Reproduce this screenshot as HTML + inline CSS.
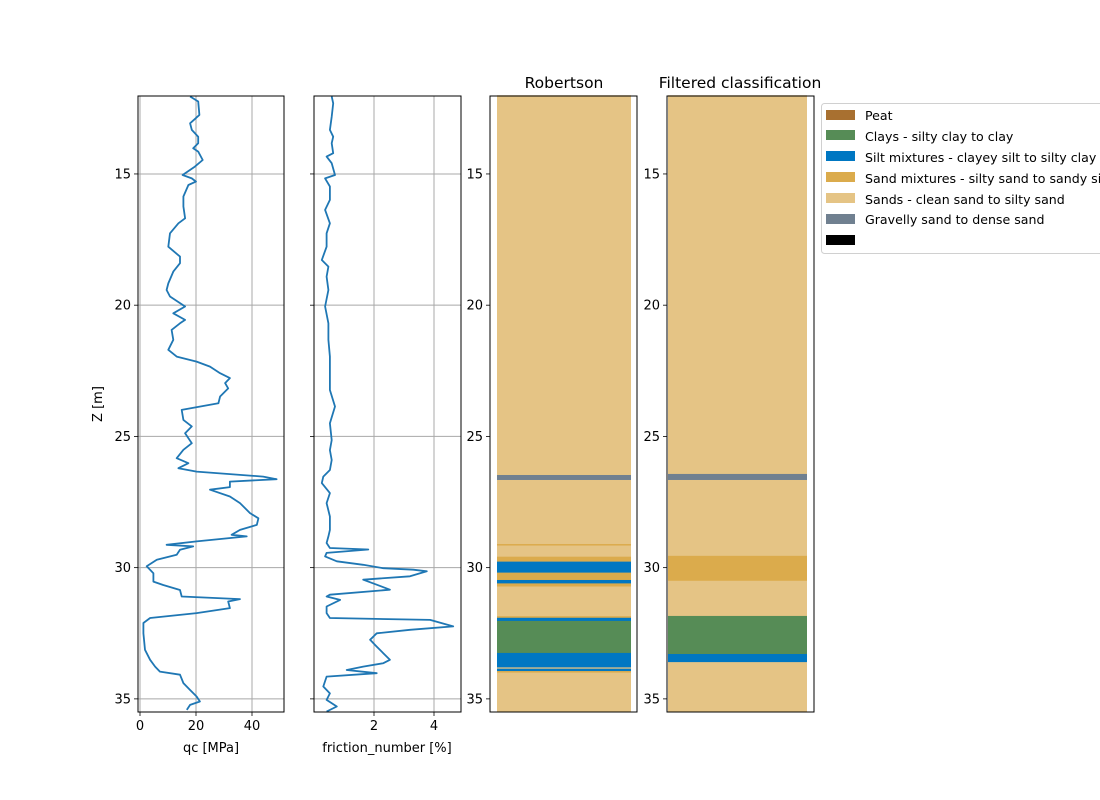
<!DOCTYPE html>
<html><head><meta charset="utf-8"><style>
body{margin:0;background:#fff}
svg{display:block;font-family:"DejaVu Sans","Liberation Sans",sans-serif}
</style></head><body>
<svg id="chart" width="1100" height="800"></svg>
<script>
const qcDepth=[12.05,12.24,12.75,13.07,13.32,13.58,13.83,14.02,14.15,14.47,14.72,15.04,15.17,15.29,15.42,15.86,16.24,16.69,16.88,17.26,17.77,18.15,18.40,18.72,19.17,19.42,19.67,20.05,20.31,20.56,20.69,20.94,21.32,21.70,21.96,22.15,22.34,22.59,22.78,22.97,23.17,23.48,23.74,23.99,24.37,24.62,24.88,25.26,25.51,25.83,26.02,26.21,26.34,26.53,26.63,26.72,26.93,27.03,27.29,27.54,27.92,28.12,28.37,28.56,28.75,28.81,29.00,29.13,29.19,29.32,29.51,29.70,29.95,30.21,30.53,30.66,30.85,31.10,31.20,31.29,31.54,31.73,31.92,32.11,32.50,33.13,33.51,33.77,33.96,34.08,34.40,34.66,34.91,35.10,35.23,35.42];
const qcValues=[17.9,20.8,21.2,17.9,18.5,20.8,20.8,19.0,20.8,22.4,19.6,15.2,18.5,20.0,17.3,15.5,15.5,16.1,13.7,10.7,10.1,14.3,14.3,11.9,10.1,9.5,10.7,16.1,11.9,16.1,14.3,11.3,11.9,10.1,13.1,20.2,25.0,28.6,32.1,30.4,31.5,28.6,28.0,14.9,15.5,18.5,16.1,18.5,15.5,13.1,17.3,13.7,20.2,44.0,48.8,32.1,32.1,25.0,32.1,35.7,39.3,42.3,41.7,35.7,32.7,38.1,20.2,9.5,19.0,14.3,13.1,6.0,2.4,4.8,4.8,8.3,14.3,14.9,35.7,31.5,32.1,20.2,3.6,1.2,1.2,1.8,3.6,5.4,7.1,14.3,15.5,17.9,20.2,21.4,17.9,16.7];
const frDepth=[12.05,12.31,12.82,13.32,13.58,13.83,14.21,14.34,14.59,15.04,15.17,15.48,15.99,16.37,16.88,17.26,17.77,18.28,18.53,18.91,19.42,20.05,20.69,21.32,21.96,22.59,23.23,23.86,24.50,25.14,25.52,25.90,26.28,26.53,26.78,27.16,27.54,28.05,28.56,28.81,29.06,29.25,29.31,29.44,29.57,29.76,29.89,30.02,30.08,30.14,30.33,30.46,30.65,30.84,31.03,31.10,31.23,31.48,31.73,31.92,31.99,32.24,32.37,32.50,32.75,33.01,33.26,33.51,33.64,33.77,33.90,34.02,34.15,34.53,34.79,35.04,35.29,35.48];
const frValues=[0.59,0.64,0.59,0.53,0.64,0.59,0.64,0.42,0.59,0.70,0.37,0.53,0.53,0.37,0.53,0.42,0.42,0.26,0.48,0.42,0.48,0.37,0.48,0.48,0.53,0.53,0.53,0.70,0.53,0.59,0.53,0.59,0.53,0.31,0.26,0.53,0.42,0.53,0.53,0.48,0.42,0.53,1.81,0.42,0.37,0.76,1.64,2.31,3.31,3.76,3.20,1.64,2.09,2.53,0.53,0.42,0.87,0.42,0.42,0.53,3.87,4.64,3.20,2.09,1.87,2.09,2.31,2.53,2.31,1.64,1.09,2.09,0.42,0.31,0.53,0.42,0.76,0.42];
const layerColors={peat:"#a87030",clay:"#568c56",silt:"#0077c2",sandmix:"#dbab4c",sand:"#e5c485",gravel:"#708090",other:"#000000"};
const robTop=[12.0,26.47,26.66,29.10,29.16,29.58,29.77,30.19,30.47,30.60,30.72,31.85,31.91,32.03,33.25,33.80,33.85,33.94,34.00];
const robType=["sand","gravel","sand","sandmix","sand","sandmix","silt","sandmix","silt","sandmix","sand","sandmix","silt","clay","silt","sand","silt","sandmix","sand"];
const filTop=[12.0,26.43,26.66,29.55,30.50,31.84,33.29,33.60];
const filType=["sand","gravel","sand","sandmix","sand","clay","silt","sand"];
const zTicks=[15,20,25,30,35];
const qcTicks=[0,20,40];
const frTicks=[2,4];

const NS="http://www.w3.org/2000/svg";
const svg=document.getElementById('chart');
function mk(tag,attrs,parent){const e=document.createElementNS(NS,tag);for(const k in attrs)e.setAttribute(k,attrs[k]);(parent||svg).appendChild(e);return e;}
const Z0=12.03,Z1=35.5,TOP=96,BOT=712;
const yS=z=>TOP+(z-Z0)/(Z1-Z0)*(BOT-TOP);
const panels=[{x:138,w:146},{x:314,w:147},{x:490,w:147},{x:667,w:147}];
const qcX=v=>140+v*2.8;
const frX=v=>314+v*30;

[0,1].forEach(i=>{const p=panels[i];
  zTicks.forEach(t=>{const l=mk('line',{x1:p.x,x2:p.x+p.w,y1:yS(t),y2:yS(t),stroke:'#a8a8a8','stroke-width':1});
    });
});
qcTicks.forEach(t=>{const l=mk('line',{x1:qcX(t),x2:qcX(t),y1:TOP,y2:BOT,stroke:'#a8a8a8','stroke-width':1});
  });
frTicks.forEach(t=>{const l=mk('line',{x1:frX(t),x2:frX(t),y1:TOP,y2:BOT,stroke:'#a8a8a8','stroke-width':1});
  });

function curve(xs,zs,fx,name,p){
  const cp=mk('clipPath',{id:'c'+name});mk('rect',{x:p.x,y:TOP,width:p.w,height:BOT-TOP},cp);
  const d=xs.map((v,i)=>(i?'L':'M')+fx(v).toFixed(1)+','+yS(zs[i]).toFixed(1)).join('');
  const path=mk('path',{d:d,fill:'none',stroke:'#1f77b4','stroke-width':1.8,'stroke-linejoin':'round','clip-path':'url(#c'+name+')'});
  
}
curve(qcValues,qcDepth,qcX,'qc-line',panels[0]);
curve(frValues,frDepth,frX,'friction-line',panels[1]);

function layers(tops,types,x0,x1,name){
  tops.forEach((t,i)=>{const b=i+1<tops.length?tops[i+1]:Z1;
    const r=mk('rect',{x:x0,y:yS(t),width:x1-x0,height:yS(b)-yS(t)+0.3,fill:layerColors[types[i]]});
    });
}
layers(robTop,robType,497,631,'robertson');
layers(filTop,filType,668,807,'filtered');

panels.forEach((p,i)=>{
  const f=mk('rect',{x:p.x,y:TOP,width:p.w,height:BOT-TOP,fill:'none',stroke:'#000','stroke-width':1});
  
  zTicks.forEach(t=>{mk('line',{x1:p.x-4,x2:p.x,y1:yS(t),y2:yS(t),stroke:'#000','stroke-width':0.8});
    if(i!==1){const tx=mk('text',{x:p.x-7,y:yS(t)+4.5,'text-anchor':'end','font-size':13});tx.textContent=t;
      }});
});
qcTicks.forEach(t=>{mk('line',{x1:qcX(t),x2:qcX(t),y1:BOT,y2:BOT+4,stroke:'#000','stroke-width':0.8});
  const tx=mk('text',{x:qcX(t),y:BOT+18,'text-anchor':'middle','font-size':13});tx.textContent=t;
  });
frTicks.forEach(t=>{mk('line',{x1:frX(t),x2:frX(t),y1:BOT,y2:BOT+4,stroke:'#000','stroke-width':0.8});
  const tx=mk('text',{x:frX(t),y:BOT+18,'text-anchor':'middle','font-size':13});tx.textContent=t;
  });
</script>
<svg width="1100" height="800" style="position:absolute;left:0;top:0" font-family="DejaVu Sans, Liberation Sans, sans-serif">
<text x="211" y="752" text-anchor="middle" font-size="13">qc [MPa]</text>
<text x="387" y="752" text-anchor="middle" font-size="13">friction_number [%]</text>
<text x="102" y="404" text-anchor="middle" font-size="13" transform="rotate(-90 102 404)">Z [m]</text>
<text x="564" y="88" text-anchor="middle" font-size="15.5">Robertson</text>
<text x="740" y="88" text-anchor="middle" font-size="15.5">Filtered classification</text>
<g font-size="12.6">
<rect x="821.5" y="103.5" width="290" height="150" rx="3" fill="#fff" stroke="#d0d0d0"/>
<rect x="826" y="110" width="29" height="10" fill="#a87030"/>
<text x="865" y="120">Peat</text>
<rect x="826" y="130" width="29" height="10" fill="#568c56"/>
<text x="865" y="141">Clays - silty clay to clay</text>
<rect x="826" y="151" width="29" height="10" fill="#0077c2"/>
<text x="865" y="162">Silt mixtures - clayey silt to silty clay</text>
<rect x="826" y="172" width="29" height="10" fill="#dbab4c"/>
<text x="865" y="183">Sand mixtures - silty sand to sandy silt</text>
<rect x="826" y="193" width="29" height="10" fill="#e5c485"/>
<text x="865" y="204">Sands - clean sand to silty sand</text>
<rect x="826" y="214" width="29" height="10" fill="#708090"/>
<text x="865" y="224">Gravelly sand to dense sand</text>
<rect x="826" y="235" width="29" height="10" fill="#000"/>
</g>
</svg>
</body></html>
